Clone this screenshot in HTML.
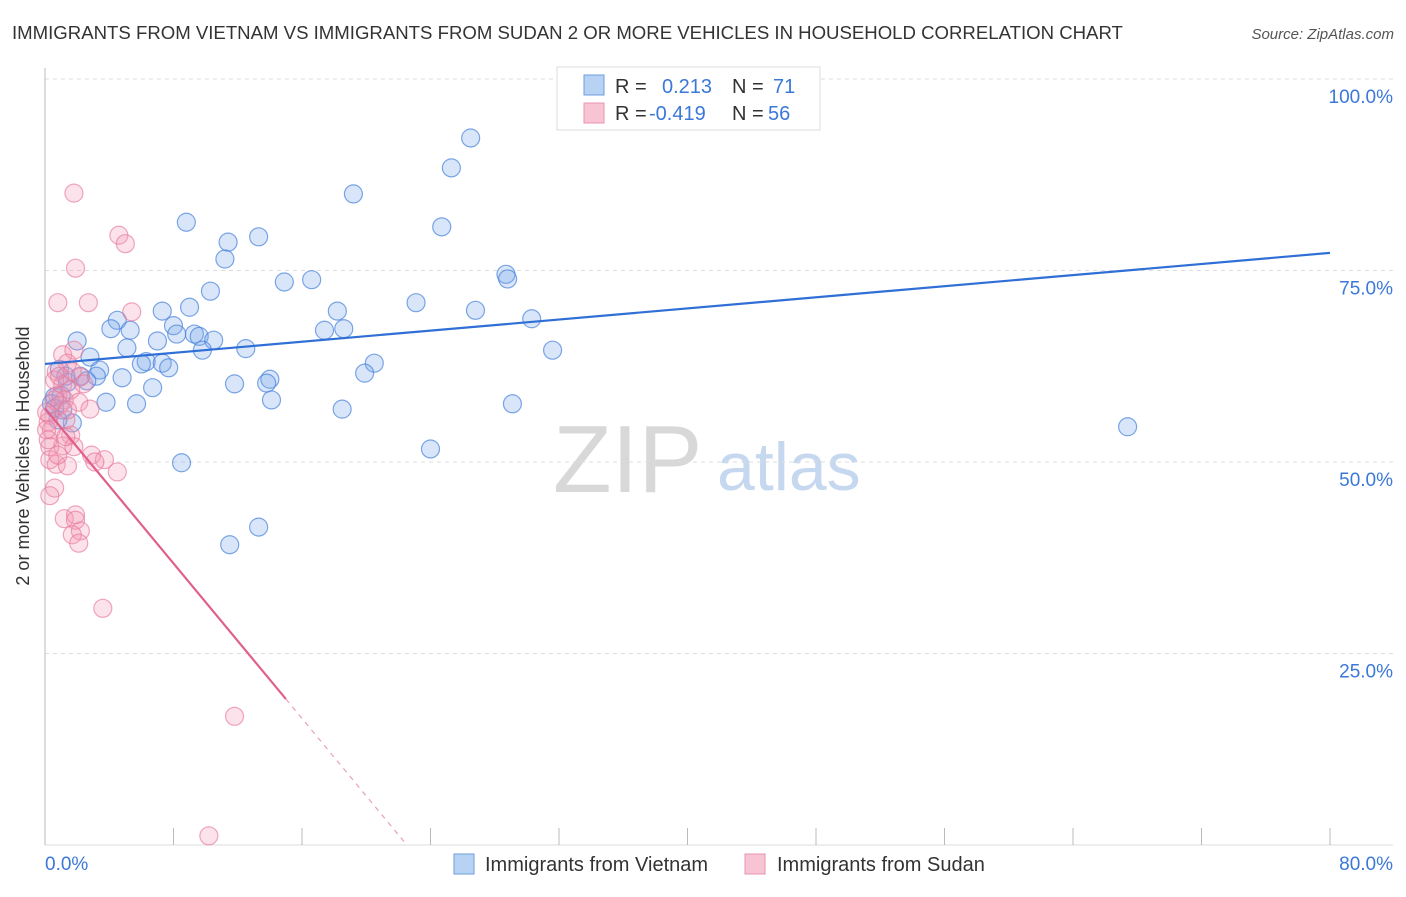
<!DOCTYPE html>
<html><head><meta charset="utf-8"><style>
body{margin:0;background:#fff;font-family:"Liberation Sans",sans-serif;}
svg text{font-family:"Liberation Sans",sans-serif;}
</style></head><body>
<svg id="chart" width="1406" height="892" xmlns="http://www.w3.org/2000/svg">
<text x="12" y="39" font-size="18.6" fill="#333">IMMIGRANTS FROM VIETNAM VS IMMIGRANTS FROM SUDAN 2 OR MORE VEHICLES IN HOUSEHOLD CORRELATION CHART</text>
<text x="1394" y="39" font-size="15" fill="#555" font-style="italic" text-anchor="end">Source: ZipAtlas.com</text>
<g>
<text x="553" y="492" font-size="96" fill="#d8d8d8" font-family="Liberation Serif,serif">ZIP</text>
<text x="717" y="490" font-size="68" fill="#c6d8f0">atlas</text>
</g>
<g id="grid"></g>
<g id="axes"></g>
<g id="pts"></g>
<g id="lines"></g>
<text x="29" y="456" font-size="18" fill="#333" text-anchor="middle" transform="rotate(-90 29 456)">2 or more Vehicles in Household</text>
<text x="45" y="870" font-size="19" fill="#3b78d8">0.0%</text>
<text x="1393" y="870" font-size="19" fill="#3b78d8" text-anchor="end">80.0%</text>
<g>
<rect x="557" y="67" width="263" height="63" fill="#fff" stroke="#ddd"/>
<rect x="584" y="75" width="20" height="20" fill="#b8d2f4" stroke="#6b9de0"/>
<rect x="584" y="103" width="20" height="20" fill="#f8c4d4" stroke="#e895b0"/>
<text x="615" y="93" font-size="20" fill="#333">R = <tspan x="662" fill="#3b78d8">0.213</tspan><tspan x="732" fill="#333">N = </tspan><tspan x="773" fill="#3b78d8">71</tspan></text>
<text x="615" y="120" font-size="20" fill="#333">R = <tspan x="649" fill="#3b78d8">-0.419</tspan><tspan x="732" fill="#333">N = </tspan><tspan x="768" fill="#3b78d8">56</tspan></text>
</g>
<g>
<rect x="454" y="854" width="20" height="20" fill="#b8d2f4" stroke="#6b9de0"/>
<text x="485" y="871" font-size="20" fill="#333">Immigrants from Vietnam</text>
<rect x="745" y="854" width="20" height="20" fill="#f8c4d4" stroke="#e895b0"/>
<text x="777" y="871" font-size="20" fill="#333">Immigrants from Sudan</text>
</g>
</svg>
<script>
const blueX=[26.5,25.3,19.2,8.8,24.7,11.4,13.3,11.2,28.7,28.8,14.9,16.6,10.3,23.1,26.8,18.2,7.3,9.0,4.5,30.3,4.1,5.3,17.4,18.6,8.0,2.0,7.0,9.3,8.2,9.6,10.5,5.1,9.8,12.5,31.6,2.8,6.3,7.3,6.0,7.7,20.5,3.4,0.9,2.2,3.2,4.8,19.9,14.0,11.8,13.8,6.7,2.6,1.4,14.1,3.8,5.7,29.1,18.5,0.6,0.4,1.1,1.7,24.0,8.5,67.4,13.3,11.5,1.3,1.0,0.6,0.8];
const blueY=[92.3,88.4,85.0,81.3,80.7,78.7,79.4,76.5,74.5,73.9,73.5,73.8,72.3,70.8,69.8,69.7,69.7,70.2,68.5,68.7,67.4,67.2,67.2,67.4,67.8,65.8,65.8,66.7,66.7,66.4,65.9,64.9,64.6,64.8,64.6,63.7,63.1,62.9,62.8,62.3,62.9,62.0,62.1,61.2,61.2,61.0,61.6,60.8,60.2,60.3,59.7,60.6,60.4,58.1,57.8,57.6,57.6,56.9,58.5,57.6,56.8,55.1,51.7,49.9,54.6,41.5,39.2,61.2,58.7,57.0,55.5];
const pinkX=[1.8,4.6,5.0,1.9,0.8,2.7,5.4,1.1,1.8,1.4,0.7,2.2,1.1,0.8,1.6,1.2,0.6,0.9,2.1,2.8,0.3,0.2,1.3,0.4,1.6,1.1,1.8,0.3,2.9,3.7,3.1,0.7,1.4,4.5,0.6,0.3,1.2,1.9,1.9,2.2,1.7,2.1,3.6,11.8,10.2,0.2,0.3,0.8,1.3,0.6,1.7,0.9,0.1,0.1,1.4,2.4];
const pinkY=[85.1,79.6,78.5,75.3,70.8,70.8,69.6,64.0,64.6,62.9,61.8,61.1,60.1,58.7,59.4,58.1,58.1,57.4,57.8,56.9,56.1,55.2,55.5,54.2,53.5,52.1,52.0,52.0,50.9,50.3,50.0,49.7,49.5,48.7,46.6,45.6,42.6,43.1,42.4,41.0,40.5,39.4,30.9,16.8,1.2,52.9,50.3,50.9,53.3,60.7,61.8,61.2,56.5,54.2,56.8,60.2];
const yTicks=[25,50,75,100];
const yTickLabels=["25.0%","50.0%","75.0%","100.0%"];
const xTicks=[0,8,16,24,32,40,48,56,64,72,80];
const blueTrend=[62.8,77.3];
const pinkTrend=[57.0,-2.53];
const pinkSolidEnd=15;

const X0=45,X1=1330,Y0=845,Y100=79;
const sx=v=>X0+(X1-X0)*v/80;
const sy=v=>Y0-(Y0-Y100)*v/100;
const NS="http://www.w3.org/2000/svg";
function mk(tag,parent,attrs){const e=document.createElementNS(NS,tag);for(const k in attrs)e.setAttribute(k,attrs[k]);parent.appendChild(e);return e;}
const grid=document.getElementById('grid'),axes=document.getElementById('axes'),pts=document.getElementById('pts'),lines=document.getElementById('lines');
const svg=document.getElementById('chart');
yTicks.forEach((t,i)=>{
 const l=mk('line',grid,{x1:X0,x2:1393,y1:sy(t),y2:sy(t),stroke:'#ddd','stroke-dasharray':'4,4'});
 
 
 const tx=mk('text',svg,{x:1393,y:sy(t)+24,'font-size':19,fill:'#3b78d8','text-anchor':'end'});
 tx.textContent=yTickLabels[i];
 
 
});
const ax=mk('line',axes,{x1:X0,x2:X0,y1:68,y2:Y0,stroke:'#bbb'});


const bx=mk('line',axes,{x1:X0,x2:1393,y1:Y0,y2:Y0,stroke:'#ddd'});


xTicks.forEach(t=>{
 const l=mk('line',axes,{x1:sx(t),x2:sx(t),y1:828,y2:Y0,stroke:'#bbb'});
 
 
});
function dots(xs,ys,fill,stroke,name){
 xs.forEach((x,i)=>{
  const c=mk('circle',pts,{cx:sx(x),cy:sy(ys[i]),r:9,fill:fill,stroke:stroke,'stroke-width':1.2});
  
  
 });
}
dots(blueX,blueY,'rgba(120,165,235,0.28)','rgba(70,130,220,0.7)','point-vietnam');
dots(pinkX,pinkY,'rgba(245,150,180,0.28)','rgba(230,120,155,0.65)','point-sudan');
const bl=mk('line',lines,{x1:sx(0),y1:sy(blueTrend[0]),x2:sx(80),y2:sy(blueTrend[1]),stroke:'#2f6fd6','stroke-width':2.2});


const pz=-pinkTrend[0]/pinkTrend[1];
const pl=mk('line',lines,{x1:sx(0),y1:sy(pinkTrend[0]),x2:sx(pinkSolidEnd),y2:sy(pinkTrend[0]+pinkTrend[1]*pinkSolidEnd),stroke:'#e0608c','stroke-width':2.2});


const pd=mk('line',lines,{x1:sx(pinkSolidEnd),y1:sy(pinkTrend[0]+pinkTrend[1]*pinkSolidEnd),x2:sx(pz),y2:sy(0),stroke:'#e8a0b8','stroke-width':1.2,'stroke-dasharray':'5,5'});


</script>
</body></html>
